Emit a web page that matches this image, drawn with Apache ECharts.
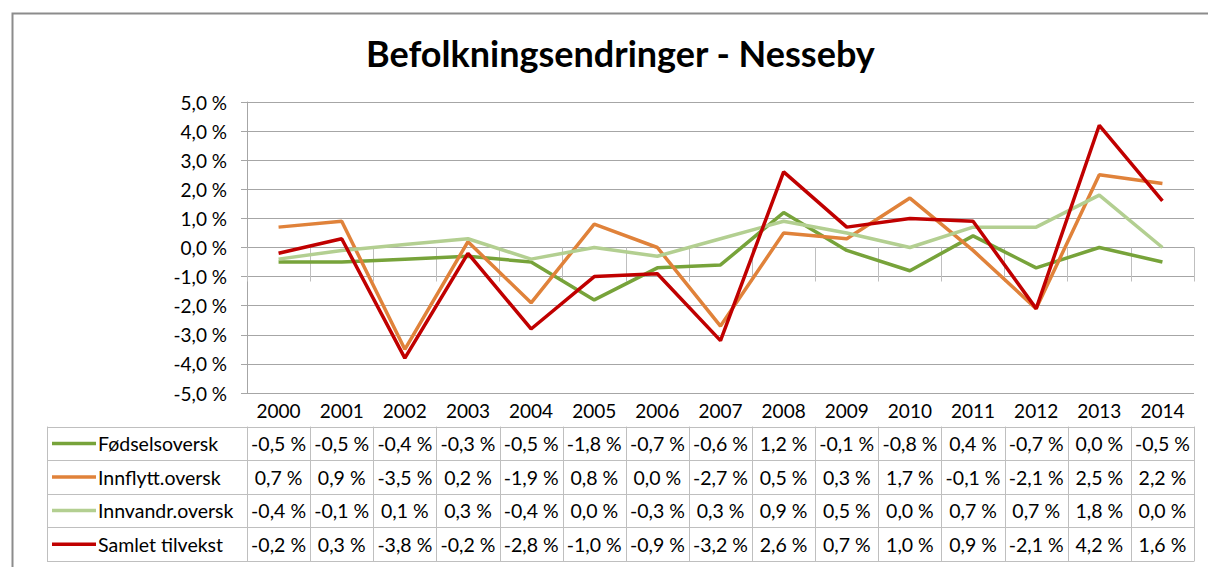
<!DOCTYPE html>
<html>
<head>
<meta charset="utf-8">
<script src="https://cdn.jsdelivr.net/npm/echarts@6.0.0/dist/echarts.min.js"></script>
<style>
  html, body { margin: 0; padding: 0; background: #fff; }
  #chart { width: 1208px; height: 567px; }
</style>
</head>
<body>
<div id="chart"></div>
<script>
const years = ['2000','2001','2002','2003','2004','2005','2006','2007','2008','2009','2010','2011','2012','2013','2014'];
const fodsel   = [-0.5,-0.5,-0.4,-0.3,-0.5,-1.8,-0.7,-0.6, 1.2,-0.1,-0.8, 0.4,-0.7, 0.0,-0.5];
const innflytt = [ 0.7, 0.9,-3.5, 0.2,-1.9, 0.8, 0.0,-2.7, 0.5, 0.3, 1.7,-0.1,-2.1, 2.5, 2.2];
const innvandr = [-0.4,-0.1, 0.1, 0.3,-0.4, 0.0,-0.3, 0.3, 0.9, 0.5, 0.0, 0.7, 0.7, 1.8, 0.0];
const samlet   = [-0.2, 0.3,-3.8,-0.2,-2.8,-1.0,-0.9,-3.2, 2.6, 0.7, 1.0, 0.9,-2.1, 4.2, 1.6];
const seriesNames = ['Fødselsoversk', 'Innflytt.oversk', 'Innvandr.oversk', 'Samlet tilvekst'];
const seriesColors = ['#77a33a', '#e0823a', '#b3cf91', '#c00000'];

const FONT = 'Lato, "Liberation Sans", sans-serif';
const pct = v => v.toFixed(1).replace('.', ',') + ' %';

const mychart = echarts.init(document.getElementById('chart'), null, { renderer: 'svg' });
const allData = [fodsel, innflytt, innvandr, samlet];

const GRID_TOP = 102, GRID_BOTTOM_Y = 393, GRID_LEFT = 247, GRID_RIGHT_X = 1194;

let option = {
  animation: false,
  textStyle: { fontFamily: FONT },
  title: {
    text: 'Befolkningsendringer - Nesseby',
    left: 361,
    top: 30,
    textStyle: { fontFamily: FONT, fontSize: 36, fontWeight: 'bold', color: '#000' }
  },
  grid: {
    left: GRID_LEFT,
    right: 1208 - GRID_RIGHT_X,
    top: GRID_TOP,
    bottom: 567 - GRID_BOTTOM_Y
  },
  xAxis: {
    type: 'category',
    data: years,
    boundaryGap: true,
    axisLine: { lineStyle: { color: '#a6a6a6', width: 1 } },
    axisTick: { show: true, length: 34, lineStyle: { color: '#bfbfbf' } },
    axisLabel: { color: '#000', fontSize: 19, fontFamily: FONT, margin: 8 },
    splitLine: { show: false }
  },
  yAxis: {
    type: 'value',
    min: -5,
    max: 5,
    interval: 1,
    axisLine: { show: true, lineStyle: { color: '#a6a6a6' } },
    axisTick: { show: true, length: 6, lineStyle: { color: '#a6a6a6' } },
    axisLabel: { color: '#000', fontSize: 19, fontFamily: FONT, margin: 20, formatter: v => pct(v) },
    splitLine: { show: true, lineStyle: { color: '#a6a6a6', width: 1 } }
  },
  series: allData.map((d, i) => ({
    name: seriesNames[i],
    type: 'line',
    data: d,
    symbol: 'none',
    color: seriesColors[i],
    lineStyle: { width: 3.5, color: seriesColors[i] },
    z: 2 + i
  }))
};
mychart.setOption(option);

// data table under the chart
const ROW_H = 33.6;
const TABLE_LEFT = 47;
const headerBottom = GRID_BOTTOM_Y + ROW_H;
const centers = years.map(y => mychart.convertToPixel({ xAxisIndex: 0 }, y));
const colW = centers[1] - centers[0];
const lineColor = '#bfbfbf';
const graphic = [];

// outer chart border (right side runs past the picture)
graphic.push({
  type: 'rect', left: 10, top: 11, silent: true,
  shape: { x: 0, y: 0, width: 1300, height: 600 },
  style: { fill: 'none', stroke: '#8c8c8c', lineWidth: 2 }
});

for (let r = 0; r <= allData.length; r++) {
  const y = Math.round(headerBottom + r * ROW_H) + 0.5;
  graphic.push({
    type: 'line', silent: true,
    shape: { x1: TABLE_LEFT, y1: y, x2: GRID_RIGHT_X, y2: y },
    style: { stroke: lineColor, lineWidth: 1 }
  });
}
const tableBottom = Math.round(headerBottom + allData.length * ROW_H) + 0.5;
graphic.push({
  type: 'line', silent: true,
  shape: { x1: TABLE_LEFT + 0.5, y1: headerBottom, x2: TABLE_LEFT + 0.5, y2: tableBottom },
  style: { stroke: lineColor, lineWidth: 1 }
});
for (let c = 0; c <= years.length; c++) {
  const x = Math.round(centers[0] - colW / 2 + c * colW) + 0.5;
  graphic.push({
    type: 'line', silent: true,
    shape: { x1: x, y1: headerBottom, x2: x, y2: tableBottom },
    style: { stroke: lineColor, lineWidth: 1 }
  });
}
allData.forEach((d, r) => {
  const cy = headerBottom + (r + 0.5) * ROW_H;
  graphic.push({
    type: 'line', silent: true,
    shape: { x1: 52, y1: cy, x2: 96, y2: cy },
    style: { stroke: seriesColors[r], lineWidth: 3.5 }
  });
  graphic.push({
    type: 'text', silent: true, x: 98, y: cy,
    style: { text: seriesNames[r], fill: '#000', font: '19.5px ' + FONT, textAlign: 'left', textVerticalAlign: 'middle' }
  });
  d.forEach((v, c) => {
    graphic.push({
      type: 'text', silent: true, x: centers[c], y: cy,
      style: { text: pct(v), fill: '#000', font: '19.5px ' + FONT, textAlign: 'center', textVerticalAlign: 'middle' }
    });
  });
});

mychart.setOption({ graphic: graphic });
</script>
</body>
</html>
